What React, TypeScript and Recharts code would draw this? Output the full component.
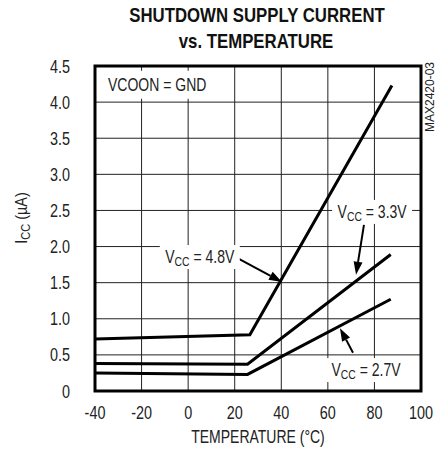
import React from 'react';
import { LineChart, Line, XAxis, YAxis, CartesianGrid, ReferenceArea, ReferenceDot, ReferenceLine } from 'recharts';

const FONT = "'Liberation Sans', Arial, sans-serif";
const SX = 0.8; // horizontal squeeze, to look like the narrow face of the original

// temperature (°C) at start, knee and end of each curve
const temps48 = [-40, 26.5, 87.5];
const temps = [-40, 25.5, 87];
// shutdown supply current (µA)
const icc48 = [0.72, 0.78, 4.23];
const icc33 = [0.38, 0.37, 1.89];
const icc27 = [0.25, 0.23, 1.27];

const xTicks = [-40, -20, 0, 20, 40, 60, 80, 100];
const yTicks = [0, 0.5, 1.0, 1.5, 2.0, 2.5, 3.0, 3.5, 4.0, 4.5];

const series = [
  { name: '4.8V', x: temps48, y: icc48 },
  { name: '3.3V', x: temps, y: icc33 },
  { name: '2.7V', x: temps, y: icc27 },
].map(s => ({ name: s.name, data: s.x.map((t, i) => ({ t, v: s.y[i] })) }));

// annotation labels and arrows, in data units
const labels = [
  { text: '4.8V', t: 5, v: 1.855 },
  { text: '3.3V', t: 79, v: 2.48 },
  { text: '2.7V', t: 76.4, v: 0.29 },
];
const arrows = [
  { from: { x: 21.8, y: 1.83 }, to: { x: 40.3, y: 1.51 } },
  { from: { x: 75.5, y: 2.3 }, to: { x: 72.1, y: 1.61 } },
  { from: { x: 70.8, y: 0.53 }, to: { x: 65.2, y: 0.87 } },
];

// text squeezed horizontally around its anchor point
const NText = ({ x, y, rotate = 0, sx = SX, children, ...rest }: any) => (
  <text
    x={0}
    y={0}
    transform={`translate(${x} ${y}) rotate(${rotate}) scale(${sx} 1)`}
    fontFamily={FONT}
    fill="#222"
    {...rest}
  >
    {children}
  </text>
);

const XTick = (props: any) => {
  const { x, y, payload } = props;
  return <NText x={x} y={y + 13} textAnchor="middle" fontSize={18}>{payload.value}</NText>;
};

const YTick = (props: any) => {
  const { x, y, payload } = props;
  const v = payload.value;
  return <NText x={x} y={y + 6.5} textAnchor="end" fontSize={18}>{v === 0 ? '0' : v.toFixed(1)}</NText>;
};

const Arrow = (props: any) => {
  const { x1, y1, x2, y2 } = props;
  const ang = Math.atan2(y2 - y1, x2 - x1);
  const len = 13;
  const hw = 4.5;
  const bx = x2 - len * Math.cos(ang);
  const by = y2 - len * Math.sin(ang);
  const px = -Math.sin(ang) * hw;
  const py = Math.cos(ang) * hw;
  return (
    <g>
      <line x1={x1} y1={y1} x2={bx} y2={by} stroke="#000" strokeWidth={2} />
      <polygon points={`${x2},${y2} ${bx + px},${by + py} ${bx - px},${by - py}`} fill="#000" />
    </g>
  );
};

const VccLabel = (text: string) => (props: any) => {
  const { cx, cy } = props;
  return (
    <g>
      <rect x={cx - 40} y={cy - 12} width={80} height={24} fill="#fff" />
      <NText x={cx} y={cy + 6} textAnchor="middle" fontSize={17.5}>
        V<tspan fontSize={13} dy={3}>CC</tspan><tspan dy={-3}> = {text}</tspan>
      </NText>
    </g>
  );
};

const ModeLabel = (props: any) => {
  const { cx, cy } = props;
  return (
    <g>
      <rect x={cx - 10} y={cy - 14} width={120} height={28} fill="#fff" />
      <NText x={cx} y={cy + 6} fontSize={17.5}>VCOON = GND</NText>
    </g>
  );
};

export default function App() {
  return (
    <div style={{ position: 'absolute', left: 0, top: 0, width: 443, height: 454, background: '#fff' }}>
      <LineChart width={443} height={454} margin={{ top: 66, right: 22, left: 0, bottom: 0 }}>
        <CartesianGrid stroke="#222" strokeWidth={1} />
        <XAxis
          type="number"
          dataKey="t"
          domain={[-40, 100]}
          ticks={xTicks}
          axisLine={false}
          tickLine={false}
          tickSize={0}
          tickMargin={15}
          height={63}
          tick={<XTick />}
          allowDataOverflow
        />
        <YAxis
          type="number"
          dataKey="v"
          domain={[0, 4.5]}
          ticks={yTicks}
          axisLine={false}
          tickLine={false}
          tickSize={0}
          tickMargin={25}
          width={95}
          tick={<YTick />}
          allowDataOverflow
        />
        <ReferenceDot x={-34.4} y={4.24} r={0} shape={ModeLabel} />
        {labels.map(l => (
          <ReferenceDot key={l.text} x={l.t} y={l.v} r={0} shape={VccLabel(l.text)} />
        ))}
        {series.map(s => (
          <Line
            key={s.name}
            data={s.data}
            dataKey="v"
            type="linear"
            stroke="#000"
            strokeWidth={3}
            dot={false}
            isAnimationActive={false}
          />
        ))}
        {arrows.map((a, i) => (
          <ReferenceLine key={i} segment={[a.from, a.to]} shape={Arrow} />
        ))}
        <ReferenceArea x1={-40} x2={100} y1={0} y2={4.5} fill="none" stroke="#000" strokeWidth={3} fillOpacity={0} />
        <NText x={257} y={22} sx={0.84} textAnchor="middle" fontSize={20} fontWeight="bold" fill="#111">
          SHUTDOWN SUPPLY CURRENT
        </NText>
        <NText x={256} y={48} sx={0.84} textAnchor="middle" fontSize={20} fontWeight="bold" fill="#111">
          vs. TEMPERATURE
        </NText>
        <NText x={258} y={443} textAnchor="middle" fontSize={17.5}>
          TEMPERATURE (°C)
        </NText>
        <NText x={27} y={218} rotate={-90} sx={0.85} textAnchor="middle" fontSize={17}>
          I<tspan fontSize={13} dy={3}>CC</tspan><tspan dy={-3}> (µA)</tspan>
        </NText>
        <NText x={434} y={97} rotate={-90} sx={1} textAnchor="middle" fontSize={12}>
          MAX2420-03
        </NText>
      </LineChart>
    </div>
  );
}
